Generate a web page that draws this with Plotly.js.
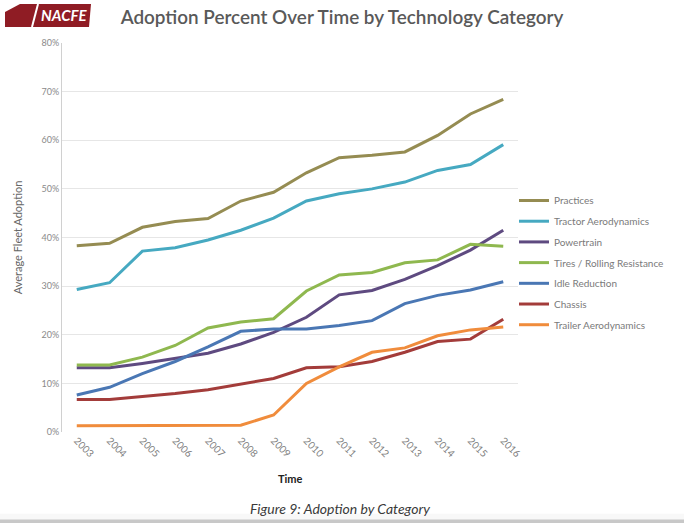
<!DOCTYPE html>
<html>
<head>
<meta charset="utf-8">
<script src="https://cdn.plot.ly/plotly-3.0.1.min.js"></script>
<style>
  html, body { margin: 0; padding: 0; background: #ffffff; }
  #chart { width: 684px; height: 523px; }
</style>
</head>
<body>
<div id="chart"></div>
<script>
// years on the x axis
const years = ['2003', '2004', '2005', '2006', '2007', '2008', '2009',
               '2010', '2011', '2012', '2013', '2014', '2015', '2016'];

// average fleet adoption (fraction)
const practices      = [0.383, 0.388, 0.421, 0.433, 0.439, 0.475, 0.493, 0.533, 0.564, 0.569, 0.576, 0.610, 0.654, 0.684];
const tractorAero    = [0.293, 0.307, 0.372, 0.379, 0.395, 0.415, 0.440, 0.475, 0.490, 0.500, 0.514, 0.538, 0.550, 0.591];
const powertrain     = [0.132, 0.132, 0.141, 0.152, 0.162, 0.181, 0.205, 0.236, 0.282, 0.291, 0.314, 0.342, 0.374, 0.415];
const tires          = [0.138, 0.138, 0.154, 0.178, 0.214, 0.226, 0.233, 0.290, 0.323, 0.328, 0.348, 0.354, 0.386, 0.382];
const idleReduction  = [0.076, 0.092, 0.120, 0.145, 0.175, 0.207, 0.212, 0.212, 0.219, 0.229, 0.264, 0.281, 0.292, 0.309];
const chassis        = [0.067, 0.067, 0.073, 0.079, 0.087, 0.099, 0.110, 0.132, 0.134, 0.145, 0.164, 0.186, 0.191, 0.232];
const trailerAero    = [0.013, 0.013, 0.013, 0.013, 0.014, 0.014, 0.035, 0.100, 0.134, 0.164, 0.173, 0.198, 0.210, 0.216];

const seriesNames  = ['Practices', 'Tractor Aerodynamics', 'Powertrain', 'Tires / Rolling Resistance',
                      'Idle Reduction', 'Chassis', 'Trailer Aerodynamics'];
const seriesValues = [practices, tractorAero, powertrain, tires, idleReduction, chassis, trailerAero];
const seriesColors = ['#958c52', '#46a9c1', '#5e4a80', '#8fb84f', '#4a77b4', '#a33c3a', '#f08c3c'];

const yTicks = [0, 0.1, 0.2, 0.3, 0.4, 0.5, 0.6, 0.7, 0.8];

const font = 'Lato, "Open Sans", sans-serif';

// plot area in pixels: x 62..518, y 43..432
function px(x) { return ((x - 62) / 456).toFixed(4); }
function py(y) { return ((432 - y) / 389).toFixed(4); }

const data = seriesNames.map(function (name, i) {
	return {
		x: years,
		y: seriesValues[i],
		name: name,
		legendgroup: 'g' + i,
		type: 'scatter',
		mode: 'lines',
		line: { color: seriesColors[i], width: 3 }
	};
});

const logoPath = 'M ' + px(20) + ',' + py(4) + ' L ' + px(91) + ',' + py(4) +
	' L ' + px(89) + ',' + py(27) + ' L ' + px(5) + ',' + py(27) +
	' L ' + px(5) + ',' + py(12) + ' Z';
const logoCut = 'M ' + px(38) + ',' + py(4) + ' L ' + px(32) + ',' + py(27);

const layout = {
	width: 684,
	height: 523,
	margin: { l: 62, r: 166, t: 43, b: 91, autoexpand: false },
	paper_bgcolor: '#ffffff',
	plot_bgcolor: '#ffffff',
	font: { family: font, color: '#808080', size: 9 },
	title: {
		text: 'Adoption Percent Over Time by Technology Category',
		font: { family: font, size: 18.9, color: '#595959', weight: 600 },
		x: px(342), xref: 'paper', xanchor: 'center',
		y: 0.967, yanchor: 'middle'
	},
	xaxis: {
		type: 'category',
		range: [-0.45, 13.45],
		tickangle: 45,
		showgrid: false,
		showline: false,
		ticks: '',
		tickfont: { size: 10, color: '#808080' }
	},
	yaxis: {
		range: [0, 0.8],
		tickvals: yTicks,
		tickformat: '.0%',
		gridcolor: '#e6e6e6',
		gridwidth: 1,
		zeroline: false,
		showline: true,
		linecolor: '#d0d0d0',
		ticks: '',
		tickfont: { size: 9, color: '#8a8a8a' },
		title: { text: 'Average Fleet Adoption', font: { size: 11, color: '#666666' }, standoff: 16 }
	},
	legend: {
		x: px(514), xanchor: 'left',
		y: py(263), yanchor: 'middle',
		font: { size: 10, color: '#7a7a7a' },
		tracegroupgap: 1.7,
		itemwidth: 30,
		bgcolor: 'rgba(0,0,0,0)'
	},
	shapes: [
		// NACFE logo block
		{ type: 'path', xref: 'paper', yref: 'paper', path: logoPath,
		  fillcolor: '#8f1c24', line: { width: 0 } },
		{ type: 'path', xref: 'paper', yref: 'paper', path: logoCut,
		  line: { color: '#ffffff', width: 2 } },
		// caption band and bottom rule
		{ type: 'rect', xref: 'paper', yref: 'paper', x0: -0.14, x1: 1.37, y0: -0.21, y1: -0.235,
		  fillcolor: '#f8f8f8', line: { width: 0 }, layer: 'below' },
		{ type: 'rect', xref: 'paper', yref: 'paper', x0: -0.14, x1: 1.37, y0: -0.225, y1: -0.235,
		  fillcolor: '#c8c8c8', line: { width: 0 } }
	],
	annotations: [
		{ text: '<i><b>NACFE</b></i>', xref: 'paper', yref: 'paper', x: px(89), y: py(15.5),
		  xanchor: 'right', yanchor: 'middle', showarrow: false,
		  font: { family: font, size: 15, color: '#ffffff' } },
		{ text: '<b>Time</b>', xref: 'paper', yref: 'paper', x: px(290), y: py(478),
		  xanchor: 'center', yanchor: 'middle', showarrow: false,
		  font: { family: font, size: 11, color: '#222222' } },
		{ text: '<i>Figure 9: Adoption by Category</i>', xref: 'paper', yref: 'paper', x: px(340), y: py(508),
		  xanchor: 'center', yanchor: 'middle', showarrow: false,
		  font: { family: font, size: 14, color: '#3a3a3a' } }
	]
};

Plotly.newPlot('chart', data, layout, { displayModeBar: false, staticPlot: true });
</script>
</body>
</html>
